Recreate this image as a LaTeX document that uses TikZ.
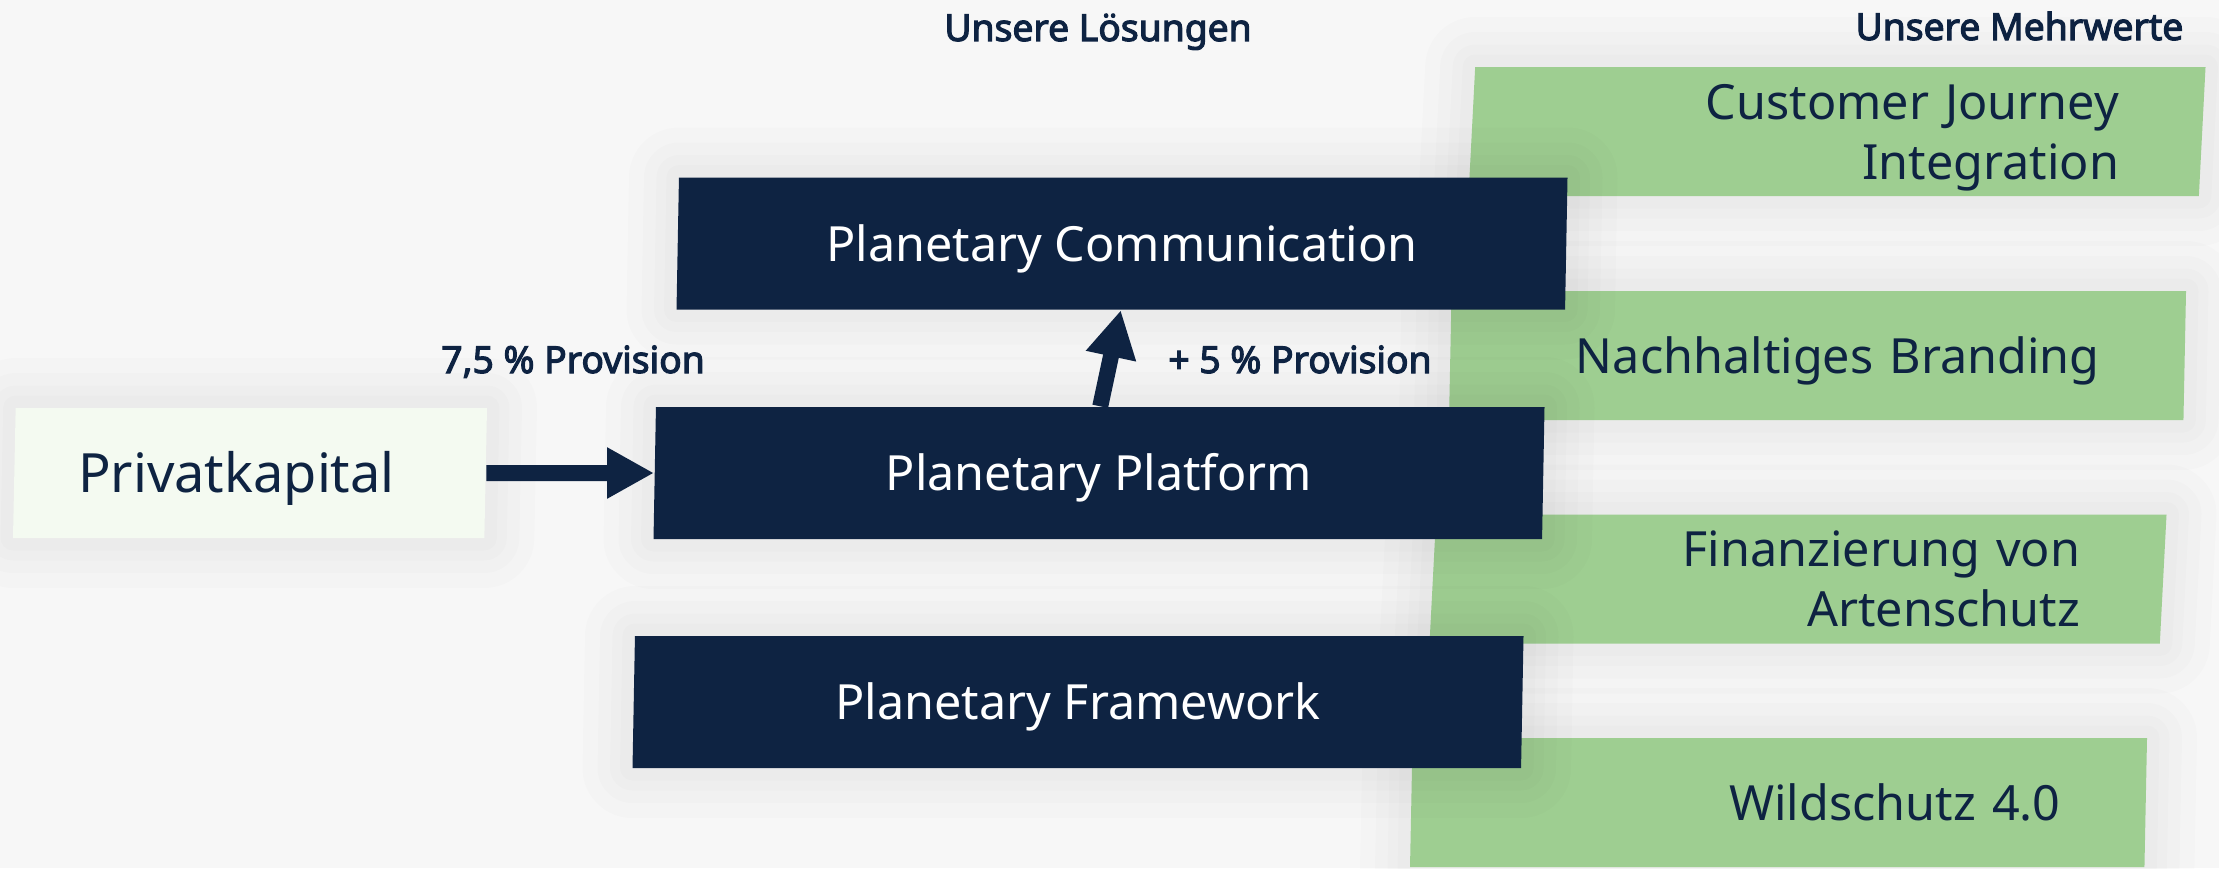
\documentclass[tikz,border=0pt]{standalone}
\usepackage{fontspec}
\setmainfont{Noto Sans}[AutoFakeBold=3]
\usetikzlibrary{shapes.geometric,arrows.meta}

\definecolor{navy}{HTML}{0E2342}
\definecolor{leaf}{HTML}{9ECE91}
\definecolor{mint}{HTML}{F4FAF1}
\definecolor{paper}{HTML}{F7F7F7}

\begin{document}
\begin{tikzpicture}
  [x=0.1mm,y=-0.1mm,
   halo/.style={preaction={draw=black,draw opacity=0.012,line width=#1,line join=round,fill=none}},
   slab/.style={trapezium,trapezium left angle=86,trapezium right angle=94,
     trapezium stretches body,inner sep=0pt,
     halo=10mm,halo=7mm,halo=4.5mm,halo=2.5mm},
   solution/.style={slab,fill=navy,text=white,minimum width=89.1mm,minimum height=13.2mm,
     text height=3.5mm,text depth=0pt,font=\fontsize{13.8}{17}\selectfont},
   benefit/.style={slab,fill=leaf,text=navy,minimum width=73.7mm,minimum height=12.9mm,
     text width=56.4mm,align=right,text depth=0pt,font=\fontsize{13.8}{17.1}\selectfont},
   twolines/.style={text depth=17.1pt},
   source/.style={slab,fill=mint,text=navy,minimum width=47.4mm,minimum height=13mm,
     text width=34.4mm,align=left,text height=3.8mm,text depth=0pt,
     font=\fontsize{15.4}{18}\selectfont},
   tag/.style={text=navy,inner sep=0pt,font=\fontsize{10.6}{12}\selectfont\bfseries},
   flow/.style={draw=navy,line width=1.6mm,-{Triangle[length=4.7mm,width=4.8mm]}}]

  \useasboundingbox (0,0) rectangle (2219,868);
  \fill[paper] (0,0) rectangle (2219,868);

  % headings
  \node[tag,anchor=base] (lsg) at (1098,41) {Unsere Lösungen};
  \node[tag,anchor=base east] (mw) at (2184,40) {Unsere Mehrwerte};

  % added values
  \node[benefit,twolines] (journey) at (1837,131.5) {Customer Journey\\Integration};
  \node[benefit] (branding) at (1817.5,355.5) {Nachhaltiges Branding};
  \node[benefit,twolines] (funding) at (1798,579) {Finanzierung von\\Artenschutz};
  \node[benefit] (wildlife) at (1778.5,802.5) {Wildschutz 4.0};

  % capital and solutions
  \node[source] (priv) at (250,473) {Privatkapital};
  \node[solution] (comm) at (1122,243.5) {Planetary Communication};
  \node[solution] (plat) at (1099,473) {Planetary Platform};
  \node[solution] (fram) at (1078,702) {Planetary Framework};

  \foreach \from/\to in {priv.east/plat.west,plat.top side/comm.bottom side}
    \draw[flow] (\from) -- (\to);

  \node[tag,anchor=base] (fee1) at (573,373) {7,5 \% Provision};
  \node[tag,anchor=base] (fee2) at (1300,373) {+ 5 \% Provision};
\end{tikzpicture}
\end{document}
